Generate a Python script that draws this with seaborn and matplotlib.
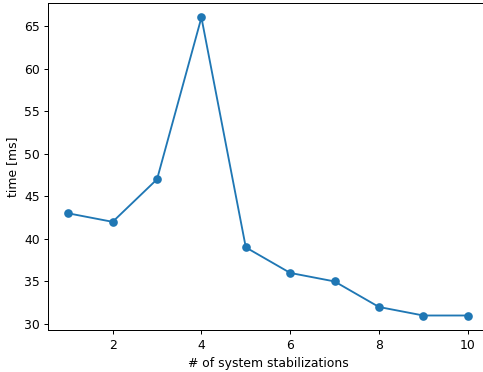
import matplotlib
matplotlib.use("Agg")
import matplotlib.pyplot as plt
import seaborn as sns
import pandas as pd

stabilizations = [1, 2, 3, 4, 5, 6, 7, 8, 9, 10]
time_ms = [43, 42, 47, 66, 39, 36, 35, 32, 31, 31]

df = pd.DataFrame({"n": stabilizations, "t": time_ms})

DPI = 89
fig = plt.figure(figsize=(483 / DPI, 372 / DPI), dpi=DPI)
W, H = 483.0, 372.0
left, right, top, bottom = 48.3, 487.7, 2.6, 330.4
ax = fig.add_axes([left / W, 1 - bottom / H, (right - left) / W, (bottom - top) / H])
sns.lineplot(data=df, x="n", y="t", marker="o", markeredgewidth=0, markersize=7,
             color="#1f77b4", ax=ax)
ax.set_xlabel("# of system stabilizations")
ax.set_ylabel("time [ms]")
ax.set_xticks([2, 4, 6, 8, 10])
ax.set_yticks([30, 35, 40, 45, 50, 55, 60, 65])
ax.set_xlim(0.55, 10.45)
ax.set_ylim(29.25, 67.75)
fig.savefig("out.png", dpi=DPI)
